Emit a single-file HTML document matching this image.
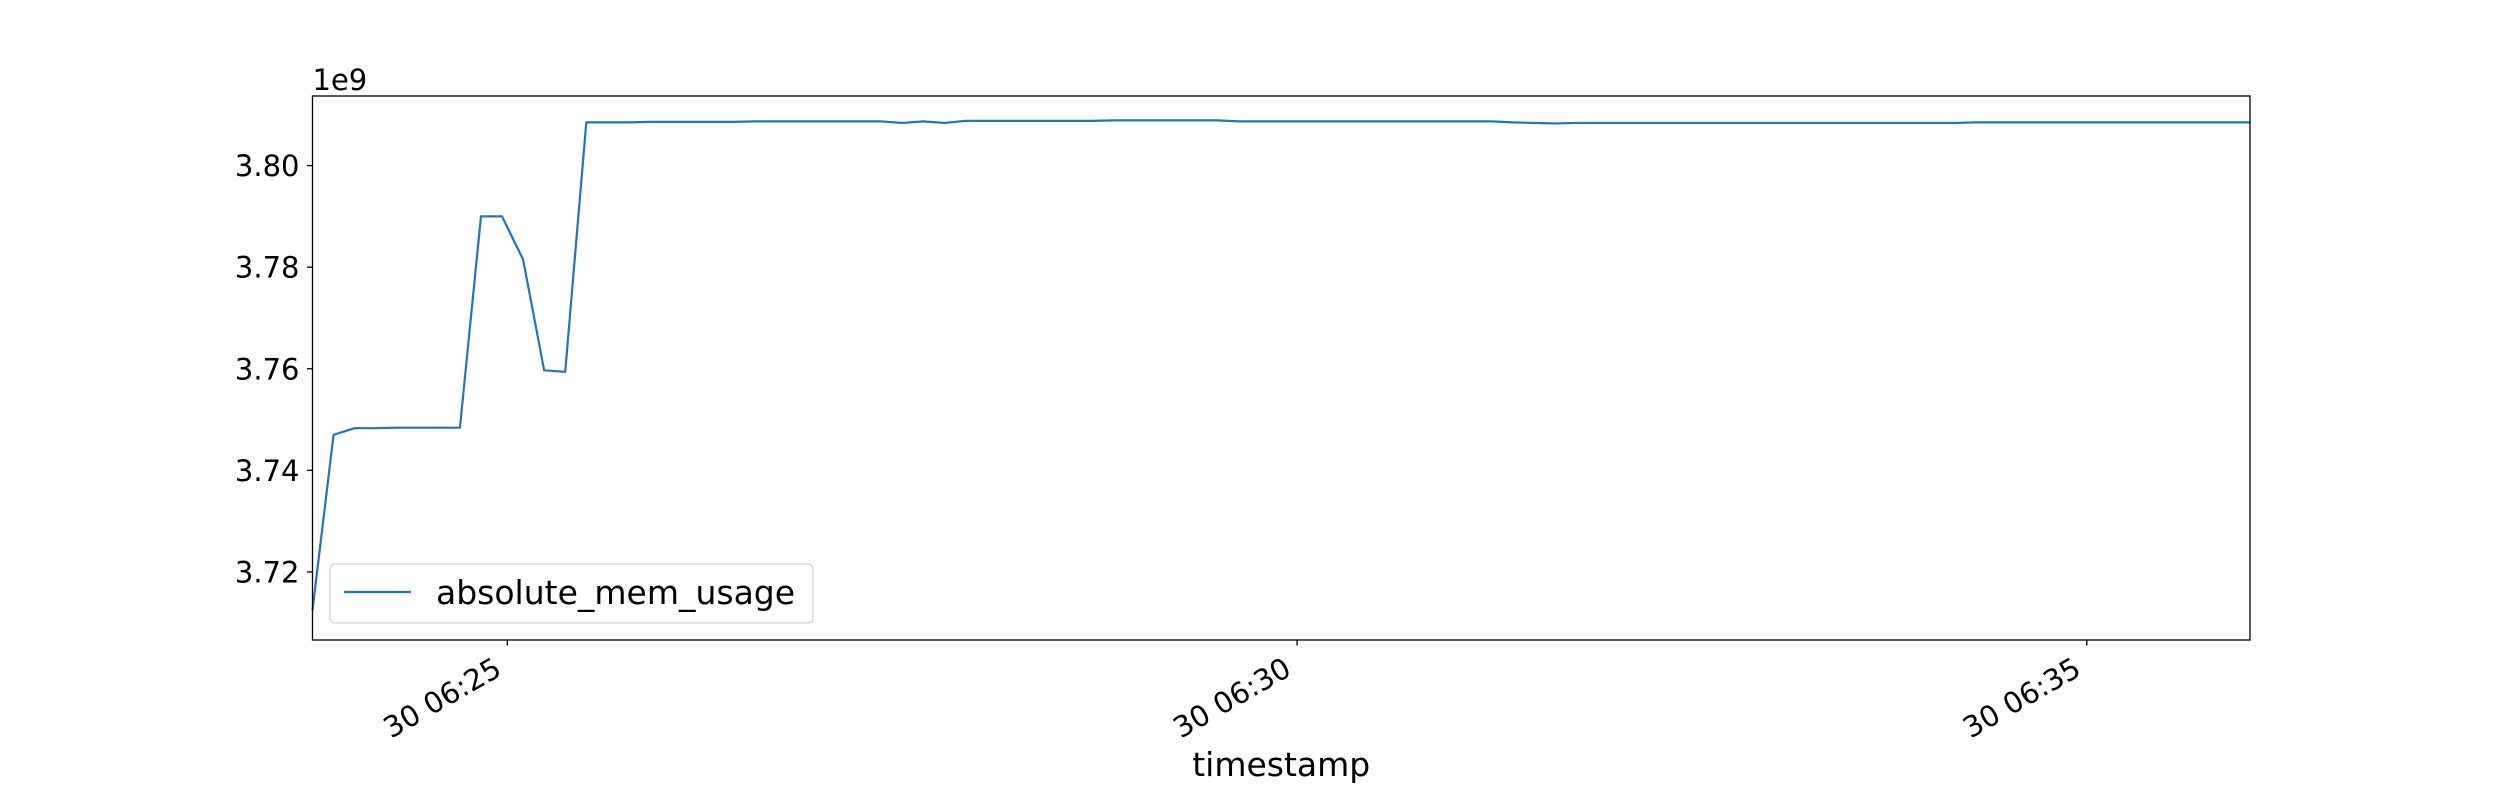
<!DOCTYPE html>
<html><head><meta charset="utf-8"><style>
html,body{margin:0;padding:0;background:#fff;}
svg{display:block;font-family:"DejaVu Sans","Liberation Sans",sans-serif;}
</style></head><body>
<svg id="chart" width="2500" height="800" viewBox="0 0 2500 800"></svg>
<script>
const startSec = 6*3600 + 23*60 + 46;
const stepSec = 8;
const memValues = [
3.7125,3.7470,3.7483,3.7483,3.7484,3.7484,3.7484,3.7484,3.7900,3.7900,
3.7815,3.7597,3.7594,3.8085,3.8085,3.8085,3.8086,3.8086,3.8086,3.8086,
3.8086,3.8087,3.8087,3.8087,3.8087,3.8087,3.8087,3.8087,3.8084,3.8087,
3.8084,3.8088,3.8088,3.8088,3.8088,3.8088,3.8088,3.8088,3.8089,3.8089,
3.8089,3.8089,3.8089,3.8089,3.8087,3.8087,3.8087,3.8087,3.8087,3.8087,
3.8087,3.8087,3.8087,3.8087,3.8087,3.8087,3.8087,3.8085,3.8084,3.8083,
3.8084,3.8084,3.8084,3.8084,3.8084,3.8084,3.8084,3.8084,3.8084,3.8084,
3.8084,3.8084,3.8084,3.8084,3.8084,3.8084,3.8084,3.8084,3.8084,3.8085,
3.8085,3.8085,3.8085,3.8085,3.8085,3.8085,3.8085,3.8085,3.8085,3.8085,
3.8085,3.8085,3.8085
];
const yTicks = [3.72,3.74,3.76,3.78,3.80];
const yTickLabels = ["3.72","3.74","3.76","3.78","3.80"];
const xTickSecs = [6*3600+25*60, 6*3600+30*60, 6*3600+35*60];
const xTickLabels = ["30 06:25","30 06:30","30 06:35"];
const seriesName = "absolute_mem_usage";

const L=312.5,R=2250,T=96,B=640;
const yMin=3.7066,yMax=3.8137;
const xMin=startSec, xMax=startSec+stepSec*(memValues.length-1);
const xs=s=>L+(s-xMin)/(xMax-xMin)*(R-L);
const ys=v=>B-(v-yMin)/(yMax-yMin)*(B-T);
const svg=document.getElementById('chart');
const NS='http://www.w3.org/2000/svg';
function mk(tag,attrs,parent){const e=document.createElementNS(NS,tag);for(const k in attrs)e.setAttribute(k,attrs[k]);(parent||svg).appendChild(e);return e;}

// series line
let d='';
memValues.forEach((v,i)=>{d+=(i?'L':'M')+xs(startSec+i*stepSec).toFixed(2)+','+ys(v).toFixed(2);});
const line=mk('path',{d:d,fill:'none',stroke:'#1f77b4','stroke-width':2.2,'stroke-linejoin':'round'});



// axes frame
const frame=mk('rect',{x:L,y:T,width:R-L,height:B-T,fill:'none',stroke:'#000','stroke-width':1.3});



// y ticks
yTicks.forEach((v,i)=>{
  const y=ys(v);
  const t=mk('line',{x1:L-5.5,x2:L,y1:y,y2:y,stroke:'#000','stroke-width':1.3});
  
  
  const lb=mk('text',{x:L-13,y:y+10.5,'text-anchor':'end','font-size':29,fill:'#000'});
  lb.textContent=yTickLabels[i];
  
  
});
const off=mk('text',{x:L,y:90,'font-size':29,fill:'#000'});
off.textContent='1e9';



// x ticks
xTickSecs.forEach((s,i)=>{
  const x=xs(s);
  const t=mk('line',{x1:x,x2:x,y1:B,y2:B+5.5,stroke:'#000','stroke-width':1.3});
  
  
  const lb=mk('text',{x:0,y:0,'text-anchor':'end','font-size':29,fill:'#000',transform:`translate(${x-4},${B+34}) rotate(-30)`});
  lb.textContent=xTickLabels[i];
  
  
});
const xl=mk('text',{x:(L+R)/2,y:776,'text-anchor':'middle','font-size':33,fill:'#000'});
xl.textContent='timestamp';



// legend
const lg=mk('g',{});


mk('rect',{x:330,y:564,width:483,height:59,rx:5,fill:'#fff',stroke:'#d0d0d0','stroke-width':1.3,'fill-opacity':0.8},lg);
const lh=mk('line',{x1:344,x2:411,y1:592,y2:592,stroke:'#1f77b4','stroke-width':2.2},lg);


const lt=mk('text',{x:436,y:604,'font-size':33,fill:'#000'},lg);
lt.textContent=seriesName;


</script>
</body></html>
